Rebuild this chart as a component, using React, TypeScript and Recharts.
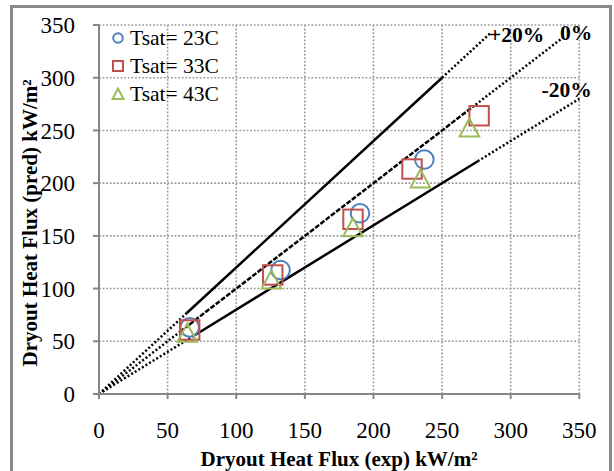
import { ScatterChart, Scatter, XAxis, YAxis, ReferenceLine, ReferenceDot } from "recharts";

const axisTicks = [0, 50, 100, 150, 200, 250, 300, 350];

// measured points, kW/m2 (exp, pred)
const tsat23 = [
  { x: 66.1, y: 63.2 },
  { x: 132.3, y: 117.6 },
  { x: 190.2, y: 171.4 },
  { x: 237.1, y: 222.4 },
];
const tsat33 = [
  { x: 66.1, y: 60.7 },
  { x: 126.6, y: 112.9 },
  { x: 185.1, y: 165.7 },
  { x: 228.1, y: 213.4 },
  { x: 277, y: 263.9 },
];
const tsat43 = [
  { x: 64.3, y: 57.9 },
  { x: 125.6, y: 108.4 },
  { x: 185.1, y: 157.9 },
  { x: 234.2, y: 204.1 },
  { x: 269.9, y: 252.5 },
];

// error band lines, split where the style changes
const plus20Line = [
  { x: 0, y: 0 },
  { x: 64, y: 76.8 },
  { x: 250, y: 300 },
  { x: 285, y: 342 },
];
const zeroLine = [
  { x: 0, y: 0 },
  { x: 66, y: 66 },
  { x: 272, y: 272 },
  { x: 340, y: 340 },
];
const minus20Line = [
  { x: 0, y: 0 },
  { x: 70, y: 56 },
  { x: 276, y: 220.8 },
  { x: 350, y: 280 },
];

const FONT = '"Liberation Serif", "Times New Roman", serif';
const BLUE = "#4f81bd";
const RED = "#c0504d";
const GREEN = "#9bbb59";
const AXIS = "#868686";

const DOT = "2 2.2";
const DASH = "5 1.6";

const CircleMark = (p: any) => <circle cx={p.cx} cy={p.cy} r={9.3} fill="none" stroke={BLUE} strokeWidth={2} />;
const SquareMark = (p: any) => <rect x={p.cx - 9.7} y={p.cy - 9.7} width={19.4} height={19.4} fill="none" stroke={RED} strokeWidth={2} />;
const TriangleMark = (p: any) => (
  <polygon
    points={`${p.cx},${p.cy - 9.3} ${p.cx - 9.8},${p.cy + 8.7} ${p.cx + 9.8},${p.cy + 8.7}`}
    fill="none"
    stroke={GREEN}
    strokeWidth={2}
  />
);

function segments(pts: { x: number; y: number }[], styles: (string | undefined)[], key: string) {
  return pts.slice(1).map((p, i) => (
    <ReferenceLine
      key={key + i}
      segment={[pts[i], p]}
      stroke="#000"
      strokeWidth={2.5}
      strokeDasharray={styles[i]}
      ifOverflow="visible"
    />
  ));
}

const lineLabel = (text: string) => (p: any) => (
  <text x={p.cx} y={p.cy} textAnchor="middle" dominantBaseline="central" fontFamily={FONT} fontWeight="bold" fontSize={21.5} fill="#000">
    {text}
  </text>
);

const legendItems = [
  { name: "Tsat= 23C", color: BLUE, kind: "circle" },
  { name: "Tsat= 33C", color: RED, kind: "square" },
  { name: "Tsat= 43C", color: GREEN, kind: "triangle" },
];

export default function App() {
  return (
    <div style={{ position: "fixed", left: 0, top: 0, width: 614, height: 471, overflow: "hidden", background: "#fff" }}>
      <div
        style={{
          position: "absolute",
          left: 10,
          top: 5,
          width: 602,
          height: 500,
          boxSizing: "border-box",
          border: "3px solid #8a8a8a",
        }}
      />
      <div style={{ position: "absolute", left: 0, top: 0 }}>
        <ScatterChart width={614} height={471} margin={{ top: 25, right: 34.7, left: 0, bottom: 0 }}>
          <XAxis
            type="number"
            dataKey="x"
            domain={[0, 350]}
            ticks={axisTicks}
            interval={0}
            allowDataOverflow
            height={77}
            tickSize={5}
            tickMargin={23}
            axisLine={{ stroke: AXIS, strokeWidth: 2 }}
            tickLine={{ stroke: AXIS, strokeWidth: 2 }}
            tick={{ fill: "#000", fontSize: 23, fontFamily: FONT }}
            label={{
              content: () => (
                <text x={339} y={466} textAnchor="middle" fontFamily={FONT} fontWeight="bold" fontSize={21} fill="#000">
                  Dryout Heat Flux (exp) kW/m²
                </text>
              ),
            }}
          />
          <YAxis
            type="number"
            dataKey="y"
            domain={[0, 350]}
            ticks={axisTicks}
            interval={0}
            allowDataOverflow
            width={99}
            tickSize={6}
            tickMargin={18}
            axisLine={{ stroke: AXIS, strokeWidth: 2 }}
            tickLine={{ stroke: AXIS, strokeWidth: 2 }}
            tick={{ fill: "#000", fontSize: 23, fontFamily: FONT }}
            label={{
              content: () => (
                <text
                  x={37}
                  y={223}
                  transform="rotate(-90 37 223)"
                  textAnchor="middle"
                  fontFamily={FONT}
                  fontWeight="bold"
                  fontSize={21}
                  fill="#000"
                >
                  Dryout Heat Flux (pred) kW/m²
                </text>
              ),
            }}
          />
          {axisTicks.slice(1).map((t) => (
            <ReferenceLine key={"gx" + t} x={t} stroke="#9a9a9a" strokeWidth={1.6} strokeDasharray="1.8 1.8" />
          ))}
          {axisTicks.slice(1).map((t) => (
            <ReferenceLine key={"gy" + t} y={t} stroke="#9a9a9a" strokeWidth={1.6} strokeDasharray="1.8 1.8" />
          ))}
          {segments(plus20Line, [DOT, undefined, DOT], "p")}
          {segments(zeroLine, [DOT, DASH, DOT], "z")}
          {segments(minus20Line, [DOT, undefined, DOT], "m")}
          <ReferenceDot x={304.4} y={340.5} r={0} ifOverflow="visible" shape={lineLabel("+20%")} />
          <ReferenceDot x={347.6} y={342.4} r={0} ifOverflow="visible" shape={lineLabel("0%")} />
          <ReferenceDot x={340.8} y={288.3} r={0} ifOverflow="visible" shape={lineLabel("-20%")} />
          <Scatter name="Tsat= 23C" data={tsat23} shape={CircleMark} isAnimationActive={false} />
          <Scatter name="Tsat= 33C" data={tsat33} shape={SquareMark} isAnimationActive={false} />
          <Scatter name="Tsat= 43C" data={tsat43} shape={TriangleMark} isAnimationActive={false} />
        </ScatterChart>
      </div>
      <div style={{ position: "absolute", left: 111, top: 24, fontFamily: FONT, fontSize: 21.5, color: "#000" }}>
        {legendItems.map((it) => (
          <div key={it.name} style={{ display: "flex", alignItems: "center", height: 28, whiteSpace: "nowrap" }}>
            <svg width={14} height={14} style={{ marginRight: 5 }}>
              {it.kind === "circle" && <circle cx={7} cy={7} r={4.8} fill="none" stroke={it.color} strokeWidth={2} />}
              {it.kind === "square" && <rect x={2} y={2} width={10} height={10} fill="none" stroke={it.color} strokeWidth={2} />}
              {it.kind === "triangle" && <polygon points="7,1.5 1.5,12 12.5,12" fill="none" stroke={it.color} strokeWidth={2} />}
            </svg>
            <span>{it.name}</span>
          </div>
        ))}
      </div>
    </div>
  );
}
